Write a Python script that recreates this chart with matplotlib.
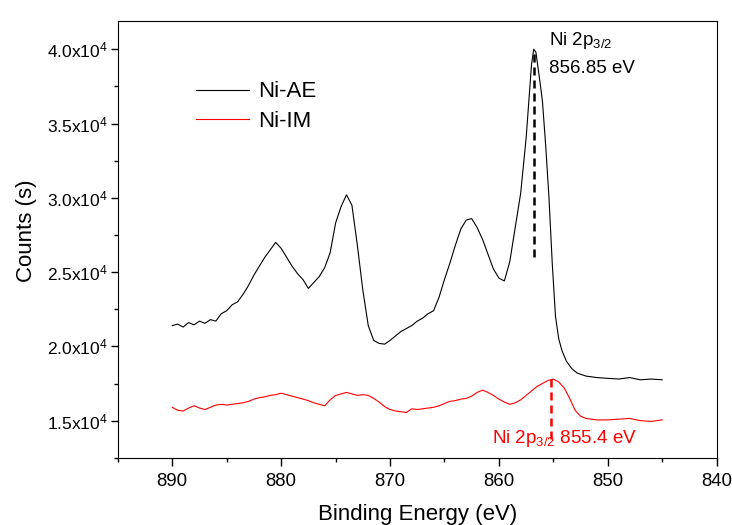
import matplotlib
matplotlib.use("Agg")
import matplotlib.pyplot as plt
from matplotlib.ticker import MultipleLocator, FuncFormatter

plt.rcParams['font.family'] = ['Liberation Sans', 'DejaVu Sans']
plt.rcParams['mathtext.fontset'] = 'custom'
plt.rcParams['mathtext.rm'] = 'Liberation Sans'
plt.rcParams['mathtext.it'] = 'Liberation Sans:italic'
plt.rcParams['mathtext.default'] = 'rm'

# Ni-AE spectrum (binding energy eV, counts)
ae_x = [890.0, 889.5, 889.0, 888.5, 888.0, 887.5, 887.0, 886.5, 886.0, 885.5,
        885.0, 884.5, 884.0, 883.5, 883.0, 882.5, 882.0, 881.5, 881.0, 880.5,
        880.0, 879.5, 879.0, 878.5, 878.0, 877.5, 877.0, 876.5, 876.0, 875.5,
        875.0, 874.5, 874.0, 873.5, 873.0, 872.5, 872.0, 871.5, 871.0, 870.5,
        870.0, 869.5, 869.0, 868.5, 868.0, 867.5, 867.0, 866.5, 866.0, 865.5,
        865.0, 864.5, 864.0, 863.5, 863.0, 862.5, 862.0, 861.5, 861.0, 860.5,
        860.0, 859.5, 859.0, 858.5, 858.0, 857.5, 857.2, 857.0, 856.8, 856.6,
        856.3, 856.0, 855.7, 855.4, 855.1, 854.8, 854.5, 854.2, 853.8, 853.3,
        852.8, 852.0, 851.0, 850.0, 849.0, 848.0, 847.0, 846.0, 845.0]
ae_y = [21400, 21500, 21300, 21600, 21450, 21700, 21550, 21800, 21700, 22200,
        22400, 22800, 23000, 23500, 24100, 24800, 25400, 26000, 26500, 27000,
        26600, 26000, 25400, 24900, 24500, 23900, 24300, 24700, 25300, 26300,
        28300, 29400, 30200, 29500, 26800, 23800, 21400, 20400, 20200, 20150,
        20400, 20700, 21000, 21200, 21400, 21700, 21900, 22200, 22400, 23300,
        24500, 25600, 26800, 27900, 28500, 28600, 28000, 27200, 26200, 25200,
        24600, 24400, 25700, 28000, 30300, 34000, 37000, 39000, 40000, 39800,
        38200, 36500, 33500, 30000, 25600, 22000, 20500, 19700, 19000, 18500,
        18200, 18000, 17900, 17850, 17800, 17900, 17750, 17800, 17750]

# Ni-IM spectrum
im_x = [890.0, 889.5, 889.0, 888.5, 888.0, 887.5, 887.0, 886.5, 886.0, 885.5,
        885.0, 884.5, 884.0, 883.5, 883.0, 882.5, 882.0, 881.5, 881.0, 880.5,
        880.0, 879.5, 879.0, 878.5, 878.0, 877.5, 877.0, 876.5, 876.0, 875.5,
        875.0, 874.5, 874.0, 873.5, 873.0, 872.5, 872.0, 871.5, 871.0, 870.5,
        870.0, 869.5, 869.0, 868.5, 868.0, 867.5, 867.0, 866.5, 866.0, 865.5,
        865.0, 864.5, 864.0, 863.5, 863.0, 862.5, 862.0, 861.5, 861.0, 860.5,
        860.0, 859.5, 859.0, 858.5, 858.0, 857.5, 857.0, 856.5, 856.0, 855.5,
        855.0, 854.5, 854.0, 853.5, 853.0, 852.5, 852.0, 851.0, 850.0, 849.0,
        848.0, 847.0, 846.0, 845.0]
im_y = [15900, 15700, 15650, 15850, 16000, 15850, 15750, 15900, 16050, 16100,
        16050, 16100, 16150, 16200, 16300, 16450, 16550, 16600, 16700, 16750,
        16850, 16750, 16650, 16550, 16450, 16350, 16200, 16100, 16000, 16400,
        16700, 16800, 16900, 16800, 16700, 16750, 16700, 16500, 16250, 15950,
        15750, 15650, 15600, 15550, 15800, 15750, 15800, 15850, 15900, 16000,
        16150, 16300, 16350, 16450, 16500, 16650, 16900, 17050, 16900, 16700,
        16450, 16250, 16100, 16200, 16400, 16700, 17000, 17300, 17500, 17700,
        17800, 17600, 17200, 16500, 15700, 15300, 15150, 15050, 15050, 15100,
        15150, 15000, 14950, 15050]

ae_peak = 856.75
im_peak = 855.2

fig = plt.figure(figsize=(7.32, 5.25), dpi=100)
ax = fig.add_axes([0.161, 0.128, 0.818, 0.832])

ax.plot(ae_x, ae_y, color='black', lw=0.8, label='Ni-AE')
ax.plot(im_x, im_y, color='red', lw=0.8, label='Ni-IM')

# peak markers
ax.plot([ae_peak, ae_peak], [26000, 40000], color='black', lw=1.8,
        linestyle=(0, (3.2, 2.0)))
ax.plot([im_peak, im_peak], [17800, 13700], color='red', lw=1.8,
        linestyle=(0, (3.2, 2.0)))

ax.text(855.4, 40600, r'Ni 2p$_{3/2}$', fontsize=13.5, va='center', ha='left')
ax.text(855.4, 38700, '856.85 eV', fontsize=13.5, va='center', ha='left')
ax.text(860.6, 13800, r'Ni 2p$_{3/2}$ 855.4 eV', fontsize=13.5, color='red',
        va='center', ha='left')

ax.set_xlim(895, 840)
ax.set_ylim(12500, 41900)
ax.xaxis.set_major_locator(MultipleLocator(10))
ax.xaxis.set_minor_locator(MultipleLocator(5))
ax.yaxis.set_major_locator(MultipleLocator(5000))
ax.yaxis.set_minor_locator(MultipleLocator(2500))
ax.yaxis.set_major_formatter(FuncFormatter(lambda v, p: '%.1fx10$^{4}$' % (v / 1e4)))

ax.tick_params(which='both', direction='out', top=False, right=False)
ax.tick_params(axis='x', which='major', length=6, width=1, labelsize=13.4, pad=5)
ax.tick_params(axis='y', which='major', length=5, width=1, labelsize=12.5, pad=2)
ax.tick_params(which='minor', length=3, width=1)

ax.set_xlabel('Binding Energy (eV)', fontsize=16, labelpad=10)
ax.set_ylabel('Counts (s)', fontsize=16)
ax.yaxis.set_label_coords(-0.135, 0.52)

ax.legend(loc='upper left', bbox_to_anchor=(0.13, 0.862), frameon=False,
          fontsize=16, handlelength=2.4, handletextpad=0.4, borderpad=0,
          borderaxespad=0, labelspacing=0.4)

plt.savefig('out.png', dpi=100)
plt.close()
